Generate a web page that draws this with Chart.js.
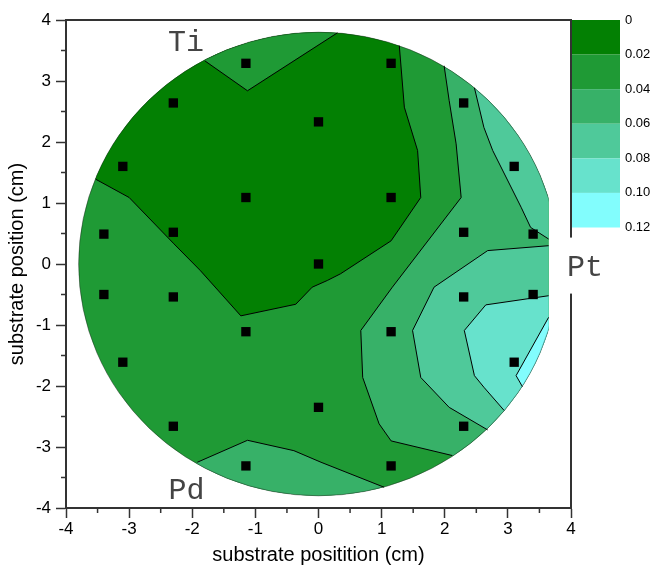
<!DOCTYPE html>
<html><head><meta charset="utf-8">
<script src="https://cdn.jsdelivr.net/npm/chart.js@4/dist/chart.umd.min.js"></script>
<style>html,body{margin:0;padding:0;background:#fff}canvas{display:block}</style>
</head><body>
<canvas id="c" width="654" height="568"></canvas>
<script>
// ---- data (cm) ----
const siteX = [-1.15, 1.15, -2.3, 2.3, 0, -3.1, 3.1, -1.15, 1.15, -3.4, -2.3, 2.3, 3.4, 0, -3.4, -2.3, 2.3, 3.4, -1.15, 1.15, -3.1, 3.1, 0, -2.3, 2.3, -1.15, 1.15];
const siteY = [3.29, 3.29, 2.64, 2.64, 2.33, 1.6, 1.6, 1.09, 1.09, 0.49, 0.52, 0.52, 0.49, 0, -0.5, -0.54, -0.54, -0.5, -1.11, -1.11, -1.61, -1.61, -2.35, -2.66, -2.66, -3.31, -3.31];

const levels = [0, 0.02, 0.04, 0.06, 0.08, 0.10, 0.12];
const bandColors = ['#038003', '#1f9a35', '#37b168', '#4fc99a', '#67e2cc', '#82fdfd'];
const waferRadius = 3.8;
const flatX = 3.645;
const baseBand = 1;

// contour lines (cm)
const c0Line = [[-3.53,1.39],[-3.0,1.09],[-2.29,0.33],[-1.87,-0.11],[-1.23,-0.85],[-0.36,-0.66],[-0.10,-0.38],[0.14,-0.27],[0.35,-0.16],[1.15,0.38],[1.62,1.09],[1.57,1.86],[1.36,2.57],[1.28,3.58]];
const wedgeLine = [[-1.80,3.33],[-1.125,2.84],[0.30,3.79]];
const c2RightLine = [[1.99,3.25],[2.07,2.68],[2.18,1.97],[2.26,1.09],[1.17,-0.38],[0.67,-1.09],[0.70,-1.86],[0.96,-2.62],[1.15,-2.90],[2.12,-3.14]];
const c2BottomLine = [[-1.92,-3.25],[-1.125,-2.89],[-0.39,-3.06],[0.04,-3.25],[1.04,-3.66]];
const c3UpperLine = [[2.47,2.89],[2.62,2.24],[2.76,1.86],[3.21,0.93],[3.36,0.60],[3.645,0.41]];
const c3LowerLine = [[3.645,0.30],[2.68,0.22],[1.83,-0.38],[1.49,-1.09],[1.62,-1.86],[2.07,-2.35],[2.68,-2.72]];
const c4Line = [[3.645,-0.52],[2.65,-0.67],[2.31,-1.09],[2.47,-1.83],[2.62,-2.02],[2.94,-2.40]];
const c5Line = [[3.645,-0.875],[3.13,-1.83],[3.23,-2.01]];

const regionLines = [c0Line, wedgeLine, c2RightLine, c2BottomLine, c3UpperLine, c3LowerLine, c4Line, c5Line];
const regionBands = [0, 1, 2, 2, 3, 3, 4, 5];
const regionCcw = [true, true, true, false, true, true, true, true];

const axisTicks = [-4, -3, -2, -1, 0, 1, 2, 3, 4];
const minorTicks = [-3.5, -2.5, -1.5, -0.5, 0.5, 1.5, 2.5, 3.5];

const labelText = ['Ti', 'Pt', 'Pd'];
const labelX = [-2.1, 4.22, -2.09];
const labelY = [3.5, -0.19, -3.86];

const cbMax = 0.12 * 488 / 207.5;

const SANS = '"Liberation Sans", Arial, sans-serif';
const MONO = '"Liberation Mono", "Courier New", monospace';
const AXIS = '#333';

const contourPlugin = {
  id: 'contour',
  beforeDatasetsDraw(chart) {
    const {ctx, chartArea: a, scales: {x, y}} = chart;
    const cx = x.getPixelForValue(0), cy = y.getPixelForValue(0);
    const rx = x.getPixelForValue(waferRadius) - cx, ry = cy - y.getPixelForValue(waferRadius);
    const fx = x.getPixelForValue(flatX);
    ctx.save();
    ctx.beginPath(); ctx.rect(a.left, a.top, fx - a.left, a.bottom - a.top); ctx.clip();
    ctx.beginPath(); ctx.ellipse(cx, cy, rx, ry, 0, 0, Math.PI * 2); ctx.clip();
    ctx.fillStyle = bandColors[baseBand];
    ctx.fillRect(a.left, a.top, a.right - a.left, a.bottom - a.top);
    regionLines.forEach((line, r) => {
      ctx.beginPath();
      line.forEach(([px, py], i) => {
        const X = x.getPixelForValue(px), Y = y.getPixelForValue(py);
        i ? ctx.lineTo(X, Y) : ctx.moveTo(X, Y);
      });
      const [sx0, sy0] = line[0], [ex0, ey0] = line[line.length - 1];
      const ts = Math.atan2(sy0, sx0), te = Math.atan2(ey0, ex0);
      const k = 1.4;
      ctx.ellipse(cx, cy, rx * k, ry * k, 0, -te, -ts, regionCcw[r]);
      ctx.closePath();
      ctx.fillStyle = bandColors[regionBands[r]];
      ctx.fill();
    });
    ctx.restore();
    ctx.save();
    ctx.beginPath(); ctx.rect(a.left, a.top, fx - a.left, a.bottom - a.top); ctx.clip();
    ctx.beginPath(); ctx.ellipse(cx, cy, rx, ry, 0, 0, Math.PI * 2);
    ctx.strokeStyle = 'rgba(30,30,30,0.55)'; ctx.lineWidth = 0.8; ctx.stroke();
    ctx.restore();
  },
  afterDraw(chart) {
    const {ctx, chartArea: a, scales: {x, y, cb}} = chart;
    ctx.save();
    // minor ticks
    ctx.strokeStyle = AXIS; ctx.lineWidth = 1.5;
    ctx.beginPath();
    minorTicks.forEach(v => {
      const X = x.getPixelForValue(v);
      ctx.moveTo(X, a.bottom); ctx.lineTo(X, a.bottom + 5);
      const Y = y.getPixelForValue(v);
      ctx.moveTo(a.left, Y); ctx.lineTo(a.left - 5, Y);
    });
    ctx.stroke();
    // top and right frame
    ctx.lineWidth = 2;
    ctx.beginPath();
    ctx.moveTo(a.left - 1, a.top); ctx.lineTo(a.right, a.top); ctx.lineTo(a.right, a.bottom);
    ctx.stroke();
    // colour bar
    for (let i = 0; i < bandColors.length; i++) {
      const y0 = cb.getPixelForValue(levels[i]), y1 = cb.getPixelForValue(levels[i + 1]);
      ctx.fillStyle = bandColors[i];
      ctx.fillRect(a.right + 1, y0, 48, y1 - y0);
    }
    // element labels
    ctx.font = '30px ' + MONO;
    ctx.textAlign = 'center'; ctx.textBaseline = 'alphabetic';
    labelText.forEach((t, i) => {
      const X = x.getPixelForValue(labelX[i]), Y = y.getPixelForValue(labelY[i]);
      if (t === 'Pt') {
        ctx.fillStyle = '#fff';
        ctx.fillRect(X - 30, Y - 38, 60, 56);
      }
      ctx.fillStyle = '#444';
      ctx.fillText(t, X, Y);
    });
    ctx.restore();
  }
};

const toXY = line => line.map(([px, py]) => ({x: px, y: py}));

const datasets = [{
  label: 'sites',
  data: siteX.map((v, i) => ({x: v, y: siteY[i]})),
  pointStyle: 'rect', pointRadius: 6.6, pointBorderWidth: 0,
  backgroundColor: '#000', borderColor: '#000', showLine: false
}];
regionLines.forEach((line, i) => datasets.push({
  label: 'contour' + i,
  data: toXY(line),
  showLine: true, borderColor: '#000', borderWidth: 1, pointRadius: 0,
  fill: false, tension: 0
}));

new Chart(document.getElementById('c'), {
  type: 'scatter',
  data: {datasets},
  options: {
    responsive: false, animation: false, events: [], devicePixelRatio: 1,
    layout: {padding: {top: 20, right: 0, bottom: 0, left: 0}},
    plugins: {legend: {display: false}, tooltip: {enabled: false}},
    scales: {
      x: {
        type: 'linear', position: 'bottom', min: -4, max: 4,
        afterBuildTicks: s => { s.ticks = axisTicks.map(v => ({value: v})); },
        ticks: {color: '#000', font: {family: SANS, size: 17}, padding: 1, maxRotation: 0, autoSkip: false},
        grid: {drawOnChartArea: false, tickLength: 10, tickColor: AXIS, tickWidth: 1.5},
        border: {color: AXIS, width: 2},
        title: {display: true, text: 'substrate positition (cm)', color: '#000', font: {family: SANS, size: 20}, padding: {top: 0, bottom: 1}},
        afterFit: s => { s.height = 60; }
      },
      y: {
        type: 'linear', position: 'left', min: -4, max: 4,
        afterBuildTicks: s => { s.ticks = axisTicks.map(v => ({value: v})); },
        ticks: {color: '#000', font: {family: SANS, size: 17}, padding: 5, autoSkip: false},
        grid: {drawOnChartArea: false, tickLength: 10, tickColor: AXIS, tickWidth: 1.5},
        border: {color: AXIS, width: 2},
        title: {display: true, text: 'substrate position (cm)', color: '#000', font: {family: SANS, size: 20}, padding: {top: 5, bottom: 0}},
        afterFit: s => { s.width = 66; }
      },
      cb: {
        type: 'linear', axis: 'y', position: 'right', reverse: true, min: 0, max: cbMax,
        afterBuildTicks: s => { s.ticks = levels.map(v => ({value: v})); },
        ticks: {color: '#000', font: {family: SANS, size: 13}, padding: 2, autoSkip: false,
                callback: v => v === 0 ? '0' : v.toFixed(2)},
        grid: {drawOnChartArea: false, drawTicks: true, tickLength: 52, tickColor: 'rgba(0,0,0,0)'},
        border: {display: false},
        afterFit: s => { s.width = 83; }
      }
    }
  },
  plugins: [contourPlugin]
});
</script>
</body></html>
